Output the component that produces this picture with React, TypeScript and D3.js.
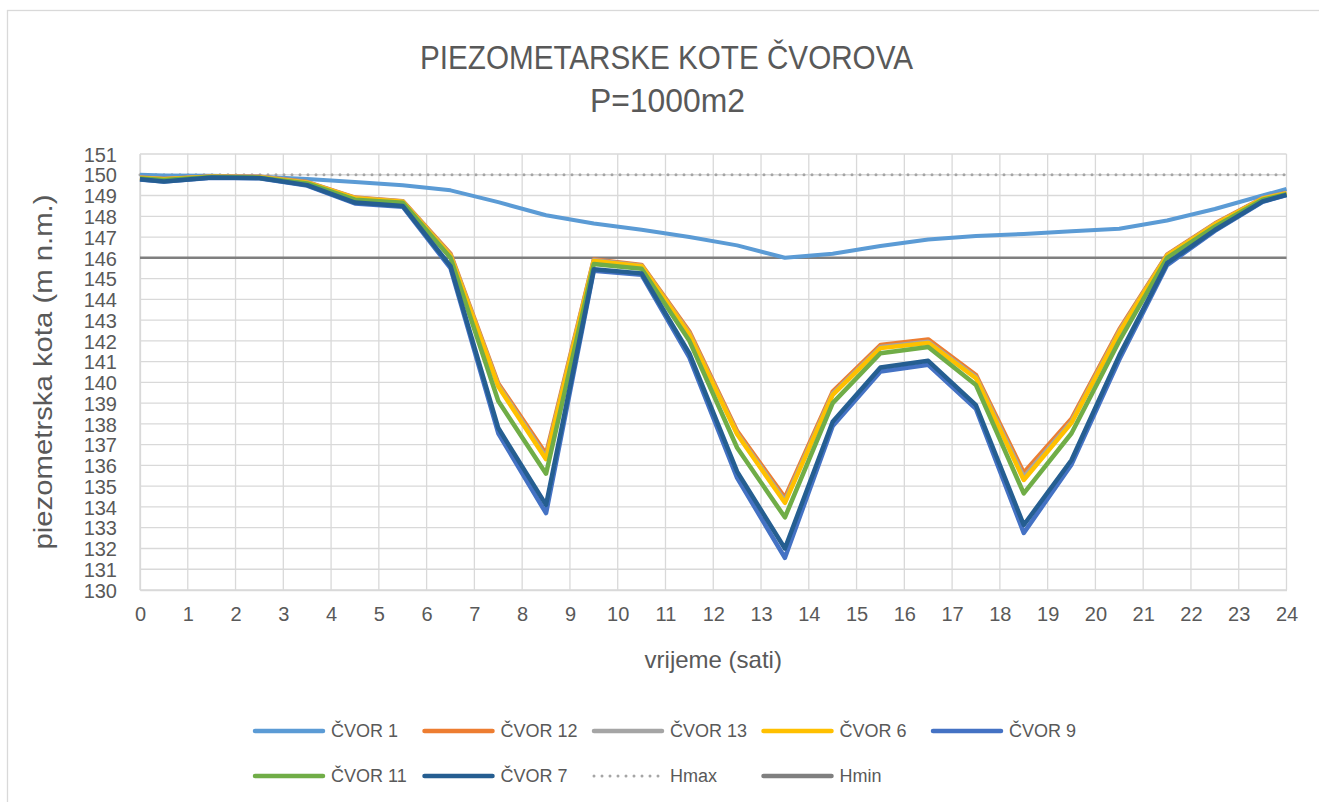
import React, { useEffect, useRef } from 'react';
import * as d3 from 'd3';

// vrijeme (sati) at which the node heads were read
const hours = [0, 0.5, 1.5, 2.5, 3.5, 4.5, 5.5, 6.5, 7.5, 8.5, 9.5, 10.5, 11.5, 12.5, 13.5, 14.5, 15.5, 16.5, 17.5, 18.5, 19.5, 20.5, 21.5, 22.5, 23.5, 24];

const cvor1 = [150.0, 149.97, 149.95, 149.9, 149.8, 149.65, 149.5, 149.25, 148.68, 148.05, 147.65, 147.35, 147.0, 146.6, 146.0, 146.2, 146.57, 146.88, 147.05, 147.15, 147.28, 147.4, 147.8, 148.35, 149.0, 149.32];
const cvor12 = [149.87, 149.8, 149.92, 149.9, 149.65, 148.9, 148.73, 146.2, 139.95, 136.55, 145.92, 145.66, 142.45, 137.65, 134.45, 139.55, 141.8, 142.07, 140.35, 135.65, 138.25, 142.55, 146.15, 147.65, 148.87, 149.12];
const cvor13 = [149.86, 149.79, 149.91, 149.89, 149.63, 148.88, 148.71, 146.14, 139.86, 136.4, 145.88, 145.62, 142.36, 137.55, 134.3, 139.46, 141.7, 141.96, 140.26, 135.45, 138.12, 142.46, 146.12, 147.62, 148.86, 149.11];
const cvor6 = [149.85, 149.78, 149.9, 149.88, 149.62, 148.87, 148.7, 146.1, 139.8, 136.3, 145.85, 145.6, 142.3, 137.5, 134.2, 139.4, 141.65, 141.9, 140.2, 135.3, 138.05, 142.4, 146.1, 147.6, 148.85, 149.1];
const cvor9 = [149.77, 149.67, 149.86, 149.83, 149.48, 148.62, 148.46, 145.5, 137.55, 133.7, 145.38, 145.18, 141.2, 135.4, 131.55, 137.9, 140.52, 140.85, 138.72, 132.75, 136.05, 141.1, 145.65, 147.3, 148.7, 149.02];
const cvor11 = [149.82, 149.75, 149.89, 149.86, 149.58, 148.8, 148.65, 146.0, 139.1, 135.6, 145.7, 145.47, 142.0, 136.85, 133.5, 139.0, 141.4, 141.7, 139.87, 134.65, 137.55, 142.0, 146.0, 147.5, 148.8, 149.07];
const cvor7 = [149.78, 149.68, 149.87, 149.84, 149.5, 148.66, 148.5, 145.6, 137.8, 134.1, 145.45, 145.25, 141.4, 135.7, 132.0, 138.1, 140.72, 141.04, 138.9, 133.13, 136.26, 141.3, 145.74, 147.34, 148.72, 149.03];

const hMax = 150;
const hMin = 146;

const xTicks = d3.range(0, 25);
const yTicks = d3.range(130, 152);

const seriesNames = ['ČVOR 1', 'ČVOR 12', 'ČVOR 13', 'ČVOR 6', 'ČVOR 9', 'ČVOR 11', 'ČVOR 7'];
const seriesValues = [cvor1, cvor12, cvor13, cvor6, cvor9, cvor11, cvor7];
const seriesColors = ['#5B9BD5', '#ED7D31', '#A5A5A5', '#FFC000', '#4472C4', '#70AD47', '#255E91'];

const W = 1319;
const H = 802;
const FONT = "'Liberation Sans', Arial, sans-serif";
const TEXT = '#595959';

const App: React.FC = () => {
  const svgRef = useRef<SVGSVGElement>(null);

  useEffect(() => {
    if (!svgRef.current) return;
    const svg = d3.select(svgRef.current);
    svg.selectAll('*').remove();

    const margin = { top: 154, right: W - 1286.5, bottom: H - 590, left: 140 };

    const x = d3.scaleLinear().domain([0, 24]).range([margin.left, W - margin.right]);
    const y = d3.scaleLinear().domain([130, 151]).range([H - margin.bottom, margin.top]);

    // chart area border
    svg.append('rect')
      .attr('x', 7.5).attr('y', 10.5)
      .attr('width', 1340).attr('height', 820)
      .attr('fill', '#fff')
      .attr('stroke', '#D9D9D9')
      .attr('stroke-width', 1.3);

    // title
    const title = svg.append('g')
      .attr('font-family', FONT)
      .attr('fill', TEXT)
      .attr('text-anchor', 'middle');
    title.append('text')
      .attr('x', 666.5).attr('y', 69)
      .attr('font-size', 33)
      .attr('textLength', 493)
      .attr('lengthAdjust', 'spacingAndGlyphs')
      .text('PIEZOMETARSKE KOTE ČVOROVA');
    title.append('text')
      .attr('x', 667.5).attr('y', 111.5)
      .attr('font-size', 33)
      .attr('textLength', 155)
      .attr('lengthAdjust', 'spacingAndGlyphs')
      .text('P=1000m2');

    // gridlines
    const grid = svg.append('g').attr('stroke', '#D9D9D9').attr('stroke-width', 1.3);
    grid.selectAll('line.h')
      .data(yTicks)
      .enter()
      .append('line')
      .attr('x1', x(0)).attr('x2', x(24))
      .attr('y1', d => y(d)).attr('y2', d => y(d));
    grid.selectAll('line.v')
      .data(xTicks)
      .enter()
      .append('line')
      .attr('x1', d => x(d)).attr('x2', d => x(d))
      .attr('y1', y(130)).attr('y2', y(151));

    // axes
    const yAxis = svg.append('g')
      .attr('transform', `translate(${margin.left},0)`)
      .call(d3.axisLeft(y).tickValues(yTicks).tickSize(0).tickPadding(23).tickFormat(d3.format('d')));
    const xAxis = svg.append('g')
      .attr('transform', `translate(0,${H - margin.bottom})`)
      .call(d3.axisBottom(x).tickValues(xTicks).tickSize(0).tickPadding(24).tickFormat(d3.format('d')));
    [xAxis, yAxis].forEach(a => {
      a.select('.domain').attr('stroke', '#D9D9D9').attr('stroke-width', 1.3);
      a.selectAll('text')
        .attr('font-family', FONT)
        .attr('font-size', 20)
        .attr('fill', TEXT);
    });
    yAxis.selectAll('text').attr('dy', '0.36em');
    xAxis.selectAll('text').attr('dy', '0.36em');

    // axis titles
    svg.append('text')
      .attr('x', (x(0) + x(24)) / 2).attr('y', 668)
      .attr('text-anchor', 'middle')
      .attr('font-family', FONT).attr('font-size', 24).attr('fill', TEXT)
      .text('vrijeme (sati)');
    svg.append('text')
      .attr('transform', `translate(52,${(y(130) + y(151)) / 2}) rotate(-90)`)
      .attr('text-anchor', 'middle')
      .attr('font-family', FONT).attr('font-size', 26).attr('fill', TEXT)
      .attr('textLength', 355)
      .attr('lengthAdjust', 'spacingAndGlyphs')
      .text('piezometrska kota (m n.m.)');

    // limit lines
    svg.append('line')
      .attr('x1', x(0)).attr('x2', x(24))
      .attr('y1', y(hMin)).attr('y2', y(hMin))
      .attr('stroke', '#7F7F7F').attr('stroke-width', 2.6);
    svg.append('line')
      .attr('x1', x(0)).attr('x2', x(24))
      .attr('y1', y(hMax)).attr('y2', y(hMax))
      .attr('stroke', '#A5A5A5').attr('stroke-width', 3)
      .attr('stroke-linecap', 'round')
      .attr('stroke-dasharray', '0 8');

    // node series
    const line = d3.line<number>()
      .x((_, i) => x(hours[i]))
      .y(d => y(d));

    svg.append('g')
      .selectAll('path')
      .data(seriesValues)
      .enter()
      .append('path')
      .attr('d', d => line(d))
      .attr('fill', 'none')
      .attr('stroke', (_, i) => seriesColors[i])
      .attr('stroke-width', (_, i) => (i === 0 ? 4 : 4.5))
      .attr('stroke-linejoin', 'round');

    // legend
    const legendItems = [
      ...seriesNames.map((n, i) => ({ name: n, color: seriesColors[i], dash: null as string | null, w: 4.5 })),
      { name: 'Hmax', color: '#A5A5A5', dash: '0 8', w: 3 },
      { name: 'Hmin', color: '#7F7F7F', dash: null, w: 4.5 },
    ];
    const legend = svg.append('g').attr('font-family', FONT).attr('font-size', 18).attr('fill', TEXT);
    const item = legend.selectAll('g')
      .data(legendItems)
      .enter()
      .append('g')
      .attr('transform', (_, i) => `translate(${255 + (i % 5) * 169.5},${i < 5 ? 731 : 776})`);
    item.append('line')
      .attr('x1', 0).attr('x2', 68)
      .attr('stroke', d => d.color)
      .attr('stroke-width', d => d.w)
      .attr('stroke-linecap', 'round')
      .attr('stroke-dasharray', d => d.dash);
    item.append('text')
      .attr('x', 76)
      .attr('dy', '0.36em')
      .text(d => d.name);
  }, []);

  return (
    <svg
      ref={svgRef}
      width={W}
      height={H}
      style={{ position: 'absolute', left: 0, top: 0, background: '#fff' }}
    />
  );
};

export default App;
